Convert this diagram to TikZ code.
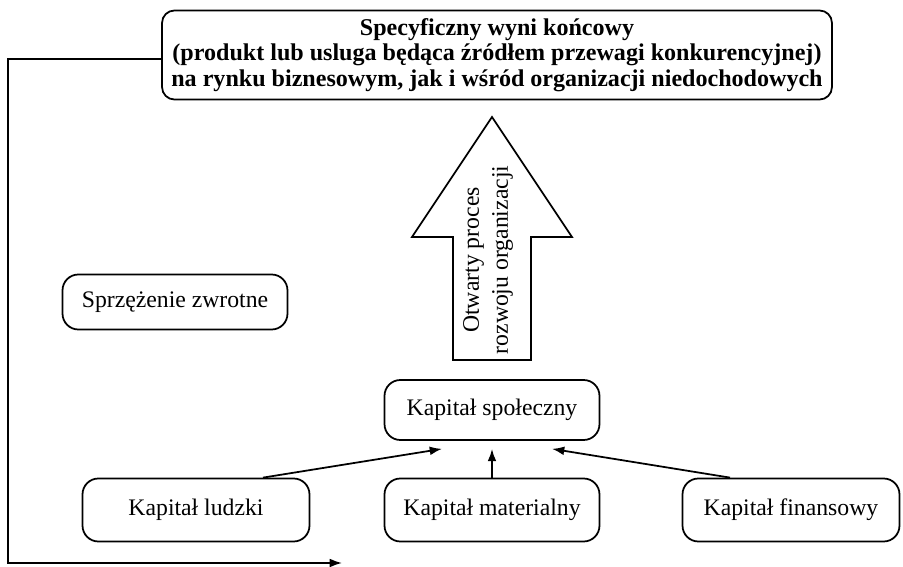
\documentclass[tikz,border=0pt]{standalone}
\usepackage{fontspec}
\setmainfont{Liberation Serif}
\usetikzlibrary{arrows.meta}

\tikzset{
    kbox/.style={draw, line width=1pt, rounded corners=9pt, align=center,
        font=\fontsize{13.5}{16}\selectfont},
    kline/.style={line width=1pt, -{Latex[length=7pt,width=5pt]}}
}

\begin{document}
\begin{tikzpicture}[x=0.02cm, y=-0.02cm]
    \useasboundingbox (0,0) rectangle (903,567);

    % Top box
    \node[kbox, rounded corners=7pt, inner sep=1pt, minimum width=13.4cm, minimum height=1.78cm,
        font=\fontsize{13.7}{14.4}\selectfont\bfseries] (wynik) at (497,55)
        {Specyficzny wyni końcowy\\
         (produkt lub usluga będąca źródłem przewagi konkurencyjnej)\\
         na rynku biznesowym, jak i wśród organizacji niedochodowych};

    % Big arrow
    \draw[line width=1pt] (453,360) -- (453,237) -- (412,237) -- (492,117)
        -- (572,237) -- (531,237) -- (531,360) -- cycle;
    \node[rotate=90, align=center, font=\fontsize{13.5}{16.5}\selectfont] (proces)
        at (488,260) {Otwarty proces\\ rozwoju organizacji};

    % Feedback
    \node[kbox, minimum width=4.5cm, minimum height=1.1cm] (sprz) at (175,302)
        {Sprzężenie zwrotne};

    % Capitals
    \node[kbox, minimum width=4.3cm, minimum height=1.2cm] (spol) at (492,410)
        {Kapitał społeczny};
    \node[kbox, minimum width=4.54cm, minimum height=1.26cm] (ludzki) at (196,510)
        {Kapitał ludzki};
    \node[kbox, minimum width=4.3cm, minimum height=1.26cm] (mat) at (492,510)
        {Kapitał materialny};
    \node[kbox, minimum width=4.34cm, minimum height=1.26cm] (fin) at (791,510)
        {Kapitał finansowy};

    \draw[kline] ([xshift=1.34cm]ludzki.north) -- ([xshift=-1cm, yshift=-0.16cm]spol.south);
    \draw[kline] (mat.north) -- ([yshift=-0.16cm]spol.south);
    \draw[kline] ([xshift=-1.22cm]fin.north) -- ([xshift=1.2cm, yshift=-0.16cm]spol.south);

    % Feedback loop
    \coordinate (kat) at (8,563);
    \coordinate (koniec) at (342,563);
    \draw[kline] ([yshift=-0.08cm]wynik.west) -| (kat) -- (koniec);
\end{tikzpicture}
\end{document}
